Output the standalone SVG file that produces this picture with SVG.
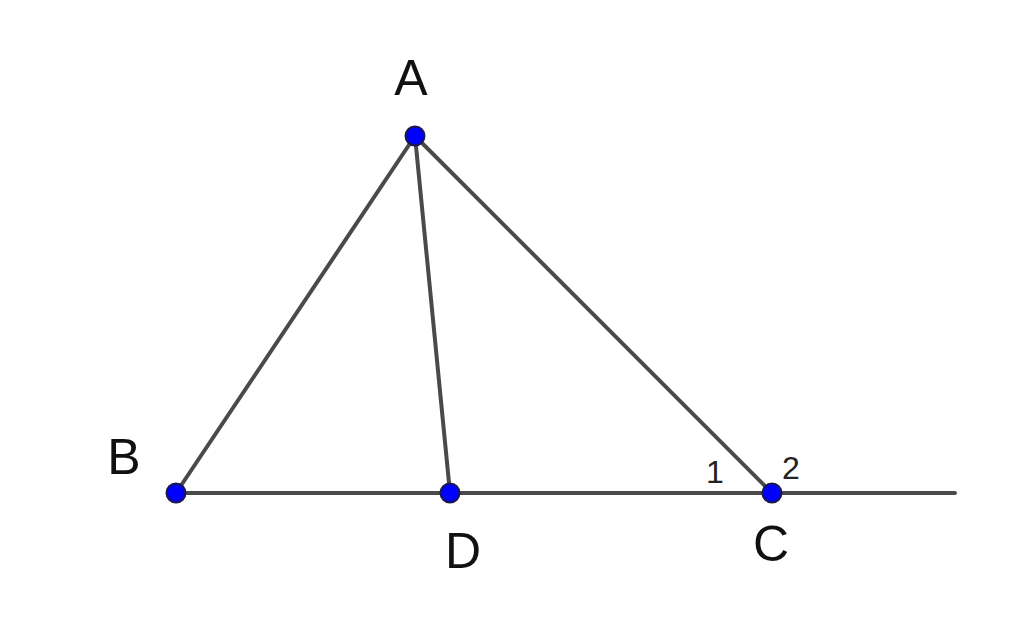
<svg xmlns="http://www.w3.org/2000/svg" width="1024" height="623" viewBox="0 0 1024 623">
<style>
.ln{stroke:#4a4a4a;stroke-width:4;fill:none;stroke-linecap:round}
.pt{fill:#0000ff;stroke:#1a1a4a;stroke-width:2}
.lb{font-family:"Liberation Sans",Arial,sans-serif;font-size:50px;fill:#111}
.sm{font-family:"Liberation Sans",Arial,sans-serif;font-size:32px;fill:#222}
</style>
<rect width="1024" height="623" fill="#fff"/>
<g id="connectors">
<line class="ln" x1="176" y1="493" x2="955" y2="493"/>
<line class="ln" x1="415" y1="136" x2="176" y2="493"/>
<line class="ln" x1="415" y1="136" x2="450" y2="493"/>
<line class="ln" x1="415" y1="136" x2="772" y2="493"/>
</g>
<g id="A"><circle class="pt" cx="415" cy="136" r="9.5"/><text class="lb" x="411" y="95" text-anchor="middle">A</text></g>
<g id="B"><circle class="pt" cx="176" cy="493" r="9.5"/><text class="lb" x="124" y="474" text-anchor="middle">B</text></g>
<g id="D"><circle class="pt" cx="450" cy="493" r="9.5"/><text class="lb" x="463" y="568" text-anchor="middle">D</text></g>
<g id="C"><circle class="pt" cx="772" cy="493" r="9.5"/><text class="lb" x="771" y="561" text-anchor="middle">C</text></g>
<g id="angle1"><text class="sm" x="715" y="483" text-anchor="middle">1</text></g>
<g id="angle2"><text class="sm" x="791" y="479" text-anchor="middle">2</text></g>
</svg>
